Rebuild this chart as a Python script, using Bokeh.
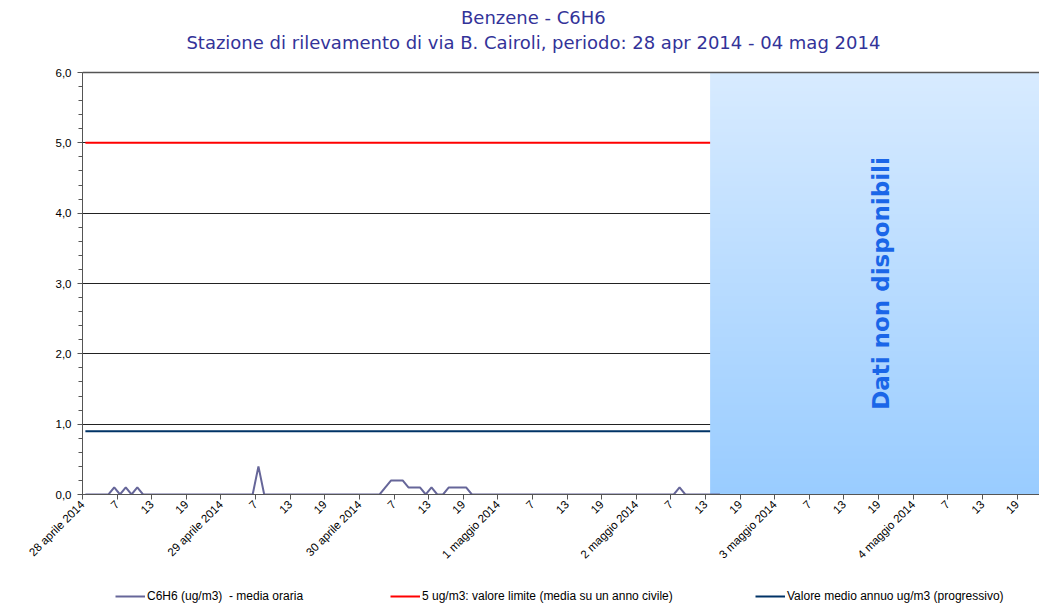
import math
import numpy as np
from bokeh.plotting import figure
from bokeh.layouts import column
from bokeh.models import FixedTicker, Legend, LegendItem, Span
from bokeh.core.properties import value
from bokeh.embed import file_html
from bokeh.resources import INLINE

# ---------------- data ----------------
day_labels = ["28 aprile 2014", "29 aprile 2014", "30 aprile 2014", "1 maggio 2014",
              "2 maggio 2014", "3 maggio 2014", "4 maggio 2014"]
hour_labels = ["7", "13", "19"]
y_tick_values = [0, 1, 2, 3, 4, 5, 6]
y_tick_labels = ["0,0", "1,0", "2,0", "3,0", "4,0", "5,0", "6,0"]

c6h6_28apr = [0, 0, 0, 0, 0, 0.1, 0, 0.1, 0, 0.1, 0, 0, 0, 0, 0, 0, 0, 0, 0, 0, 0, 0, 0, 0]
c6h6_29apr = [0, 0, 0, 0, 0, 0, 0.4, 0, 0, 0, 0, 0, 0, 0, 0, 0, 0, 0, 0, 0, 0, 0, 0, 0]
c6h6_30apr = [0, 0, 0, 0, 0.1, 0.2, 0.2, 0.2, 0.1, 0.1, 0.1, 0, 0.1, 0, 0, 0.1, 0.1, 0.1, 0.1, 0, 0, 0, 0, 0]
c6h6_01mag = [0, 0, 0, 0, 0, 0, 0, 0, 0, 0, 0, 0, 0, 0, 0, 0, 0, 0, 0, 0, 0, 0, 0, 0]
c6h6_02mag = [0, 0, 0, 0, 0, 0, 0, 0.1, 0, 0, 0, 0, 0, 0, 0]

limit_value = 5.0        # ug/m3 valore limite
annual_mean = 0.9        # valore medio annuo progressivo
hours_total = 168        # 7 giorni
no_data_start = 108.8    # ora da cui i dati non sono disponibili

title_1 = "Benzene - C6H6"
title_2 = "Stazione di rilevamento di via B. Cairoli, periodo: 28 apr 2014 - 04 mag 2014"
legend_labels = ["C6H6 (ug/m3)  - media oraria",
                 "5 ug/m3: valore limite (media su un anno civile)",
                 "Valore medio annuo ug/m3 (progressivo)"]

c6h6 = c6h6_28apr + c6h6_29apr + c6h6_30apr + c6h6_01mag + c6h6_02mag
xs = np.arange(len(c6h6)) + 0.5

# ---------------- main figure ----------------
x_end = 165.9
y_top = 7.024   # frame reaches the top of the canvas; titles live above 6.0
p = figure(width=1039, height=583, x_range=(0, x_end), y_range=(0, y_top),
           output_backend="svg", toolbar_location=None, title=None,
           min_border_left=82, min_border_right=0, min_border_top=0, min_border_bottom=89,
           background_fill_color="white", border_fill_color="white")
p.outline_line_color = None

AX_FONT = "Liberation Sans"
AX_SIZE = "11.5px"

# y axis
p.yaxis.bounds = (0, 6)
p.yaxis.ticker = FixedTicker(ticks=y_tick_values,
                             minor_ticks=[v / 5 for v in range(0, 31)])
p.yaxis.major_label_overrides = {v: l for v, l in zip(y_tick_values, y_tick_labels)}
p.yaxis.axis_line_color = "#555555"
p.yaxis.major_tick_line_color = "#555555"
p.yaxis.minor_tick_line_color = "#555555"
p.yaxis.major_tick_in = 0
p.yaxis.major_tick_out = 5
p.yaxis.minor_tick_in = 0
p.yaxis.minor_tick_out = 4
p.yaxis.major_label_text_font = AX_FONT
p.yaxis.major_label_text_font_size = AX_SIZE
p.yaxis.major_label_text_color = "black"
p.yaxis.major_label_standoff = 6

# x axis: day label at hour 1, then hours 7, 13, 19
x_ticks = list(range(0, hours_total, 6))
x_over = {}
for t in x_ticks:
    d, r = divmod(t, 24)
    x_over[t] = day_labels[d] if r == 0 else hour_labels[r // 6 - 1]
p.xaxis.ticker = FixedTicker(ticks=x_ticks, minor_ticks=[])
p.xaxis.major_label_overrides = x_over
p.xaxis.major_label_orientation = math.pi / 4
p.xaxis.axis_line_color = "#555555"
p.xaxis.major_tick_line_color = "#555555"
p.xaxis.major_tick_in = 0
p.xaxis.major_tick_out = 5
p.xaxis.major_label_text_font = AX_FONT
p.xaxis.major_label_text_font_size = AX_SIZE
p.xaxis.major_label_text_color = "black"
p.xaxis.major_label_text_align = "right"
p.xaxis.major_label_text_baseline = "middle"
p.xaxis.major_label_standoff = 3

# grid
p.xgrid.visible = False
p.ygrid.ticker = FixedTicker(ticks=[1, 2, 3, 4, 5])
p.ygrid.grid_line_color = "#222222"
p.ygrid.grid_line_width = 1

# reference lines
r_lim = p.line(xs, [limit_value] * len(xs), line_color="#ff0000", line_width=2)
r_mean = p.line(xs, [annual_mean] * len(xs), line_color="#003366", line_width=2)

# no-data region with vertical gradient (image)
n_rows = 256
top_rgb = np.array([0xd8, 0xeb, 0xff], dtype=float)
bot_rgb = np.array([0x99, 0xcc, 0xff], dtype=float)
img = np.zeros((n_rows, 1), dtype=np.uint32)
view = img.view(dtype=np.uint8).reshape((n_rows, 1, 4))
for i in range(n_rows):
    f = (i + 0.5) / n_rows          # row 0 is the bottom
    c = bot_rgb + (top_rgb - bot_rgb) * f
    view[i, 0, 0] = int(round(c[0]))
    view[i, 0, 1] = int(round(c[1]))
    view[i, 0, 2] = int(round(c[2]))
    view[i, 0, 3] = 255
p.image_rgba(image=[img], x=no_data_start, y=0, dw=hours_total - no_data_start, dh=6)

p.text(x=[(no_data_start + hours_total) / 2], y=[3.0], text=["Dati non disponibili"],
       angle=math.pi / 2, text_align="center", text_baseline="middle",
       text_font=value("DejaVu Sans"), text_font_style="bold",
       text_font_size="23px", text_color="#1a66e8")

# top border at 6.0
p.add_layout(Span(location=6, dimension="width", line_color="#555555", line_width=1.5))

# main series
r_c = p.line(xs, c6h6, line_color="#666699", line_width=2)

# titles (inside the frame, above the 6.0 border)
title_color = "#333399"
p.text(x=[78.16, 78.16], y=[6.782, 6.427], text=[title_1, title_2],
       text_align="center", text_baseline="middle",
       text_font=value("DejaVu Sans"), text_font_size="18px", text_color=title_color)

# ---------------- legend strip ----------------
# (its frame is aligned with the main frame, which starts 82 px from the left)
lg_fig = figure(width=1039, height=20, x_range=(0, 1), y_range=(0, 1),
                output_backend="svg", toolbar_location=None, title=None,
                x_axis_location=None, y_axis_location=None,
                min_border=0, min_border_left=0, min_border_right=0,
                min_border_top=0, min_border_bottom=0)
lg_fig.outline_line_color = None
lg_fig.xgrid.visible = False
lg_fig.ygrid.visible = False
# off-screen stand-ins that only carry the legend line styles
d1 = lg_fig.line([-2, -1], [-2, -2], line_color="#666699", line_width=2)
d2 = lg_fig.line([-2, -1], [-2, -2], line_color="#ff0000", line_width=2)
d3 = lg_fig.line([-2, -1], [-2, -2], line_color="#003366", line_width=2)

for lab, r, vx in zip(legend_labels, [d1, d2, d3], [33, 308, 673]):
    lg = Legend(items=[LegendItem(label=lab, renderers=[r])], location=(vx, 0),
                orientation="horizontal", padding=0, margin=0, spacing=0,
                glyph_width=30, glyph_height=12, label_height=12, label_standoff=2,
                label_text_font="Liberation Sans", label_text_font_size="12px",
                label_text_color="black", background_fill_alpha=0,
                border_line_color=None)
    lg_fig.add_layout(lg, "center")

layout = column(p, lg_fig, spacing=0)
open("out.html", "w").write(file_html(layout, INLINE))
